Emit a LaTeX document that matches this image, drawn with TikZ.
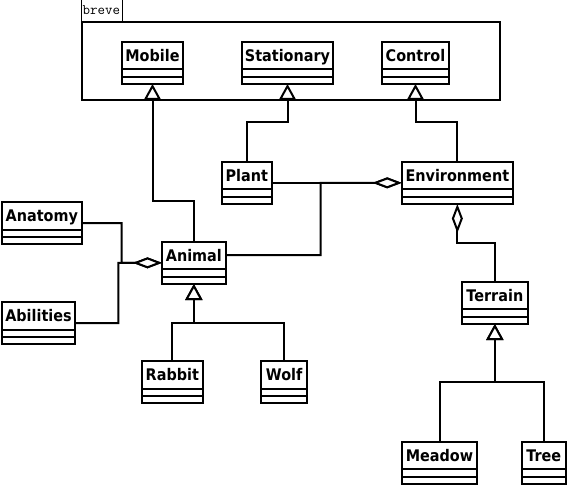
\documentclass[tikz,border=0pt]{standalone}
\usepackage{fontspec}
\newfontfamily\clsfont{DejaVu Sans}[FakeStretch=0.9]
\usetikzlibrary{arrows.meta}
\tikzset{
  clsbox/.style={draw, line width=2pt, inner sep=0pt, outer sep=0pt, anchor=north west, fill=white},
  clsname/.style={font=\clsfont\bfseries\fontsize{16}{18}\selectfont, inner sep=0pt, anchor=base},
  conn/.style={line width=2pt},
  gen/.style={conn, -{Triangle[length=16pt,width=17pt,fill=white]}},
  agg/.style={conn, -{Diamond[length=29pt,width=11pt,fill=white]}},
}
\newcommand\umlcls[5]{%
  \node[clsbox, minimum width={#4-#2-2}, minimum height=42.3] (#1) at ({#2+1},{#3+1}) {};
  \node[clsname] (#1-t) at ([yshift=-19.6pt]#1.north) {#5};
  \draw[conn] ([yshift=-27.6pt]#1.north west) -- ([yshift=-27.6pt]#1.north east);
  \draw[conn] ([yshift=-35.3pt]#1.north west) -- ([yshift=-35.3pt]#1.north east);
}
\begin{document}
\begin{tikzpicture}[x=1pt,y=-1pt]
\useasboundingbox (0,0) rectangle (567,486);
% package frame
\node[draw, line width=1pt, inner sep=0pt, outer sep=0pt, minimum width=41.5, minimum height=21.5, anchor=south west] (tab) at (81.2,21.5) {};
\node[font=\ttfamily\fontsize{14.5}{16}\selectfont, inner sep=0pt, anchor=base west] (tabtext) at (82.5,14.5) {breve};
\node[draw, line width=2pt, inner sep=0pt, outer sep=0pt, minimum width=418.3, minimum height=77.7, anchor=north west] (package) at (81.7,22) {};
% classes
\umlcls{mobile}{120.7}{40.7}{184.3}{Mobile}
\umlcls{stationary}{241}{40.7}{334}{Stationary}
\umlcls{control}{381}{40.7}{450}{Control}
\umlcls{plant}{221}{160.7}{272.7}{Plant}
\umlcls{environment}{400.7}{160.7}{514}{Environment}
\umlcls{anatomy}{1}{201}{82.7}{Anatomy}
\umlcls{abilities}{1}{301}{76}{Abilities}
\umlcls{animal}{161}{240.7}{226.7}{Animal}
\umlcls{terrain}{460.7}{280.7}{529}{Terrain}
\umlcls{rabbit}{140.7}{360}{204}{Rabbit}
\umlcls{wolf}{260}{360}{308.3}{Wolf}
\umlcls{meadow}{400.7}{440.7}{478.3}{Meadow}
\umlcls{tree}{520.7}{440.7}{566.7}{Tree}
% generalizations
\draw[gen] (animal.north) -- ++(0,-40.7) -| (mobile.south);
\draw[gen] (plant.north) -- ++(0,-39.4) -| (stationary.south);
\draw[gen] (environment.north) -- ++(0,-39.4) -| (control.south);
\draw[gen] (rabbit.north) -- ++(0,-38.3) -| (animal.south);
\draw[gen] (wolf.north) -- ++(0,-38.3) -| (animal.south);
\draw[gen] (meadow.north) -- ++(0,-59.4) -| (terrain.south);
\draw[gen] (tree.north) -- ++(0,-59.4) -| (terrain.south);
% aggregations
\draw[agg] (plant.east) -- (environment.west);
\draw[agg] ([yshift=7.85pt]animal.east) -| (320.7,182.85) -- (environment.west);
\draw[agg] (terrain.north) -- ++(0,-39) -| (environment.south);
\draw[agg] (anatomy.east) -| (121.7,262.85) -- (animal.west);
\draw[agg] (abilities.east) -| (118.3,262.85) -- (animal.west);
\end{tikzpicture}
\end{document}
